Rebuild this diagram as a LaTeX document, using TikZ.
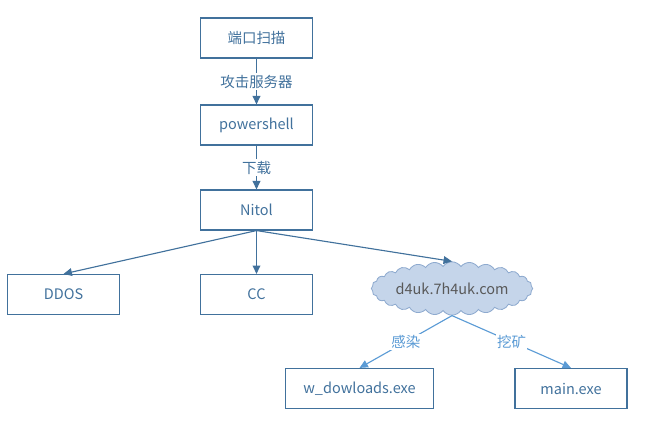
\documentclass[tikz,border=0pt]{standalone}
\usepackage{fontspec}
\setmainfont{Noto Sans CJK SC}
\usetikzlibrary{shapes.symbols,arrows.meta}
\definecolor{boxblue}{HTML}{41719C}
\definecolor{lightblue}{HTML}{5B9BD5}
\definecolor{cloudfill}{HTML}{C5D5EA}
\definecolor{cloudline}{HTML}{8EAACF}
\definecolor{cloudtext}{HTML}{595959}
\begin{document}
\begin{tikzpicture}[x=0.025cm, y=-0.025cm,
    font=\fontsize{10.3pt}{12pt}\selectfont,
    box/.style={draw=boxblue, line width=0.8pt, text=boxblue, minimum width=2.8cm, minimum height=1cm, inner sep=0},
    flow/.style={draw=boxblue, line width=0.8pt, -{Triangle[length=6pt,width=5.5pt]}},
    flowlight/.style={draw=lightblue, line width=0.8pt, -{Triangle[length=6pt,width=5.5pt]}},
    lbl/.style={fill=white, text=boxblue, inner sep=1pt},
    lbllight/.style={fill=white, text=lightblue, inner sep=1pt}]
    \useasboundingbox (0,0) rectangle (645,429);
    % Boxes
    \node[box] (scan) at (256.5,38) {端口扫描};
    \node[box] (ps) at (256.5,125) {powershell};
    \node[box] (nitol) at (256.5,210) {Nitol};
    \node[box] (ddos) at (63.5,294.5) {DDOS};
    \node[box] (cc) at (256.5,294.5) {CC};
    \node[box, minimum width=3.7cm] (wdl) at (359.5,388.5) {w\_dowloads.exe};
    \node[box] (main) at (571,388.5) {main.exe};
    % Cloud
    \node[cloud, cloud puffs=28, cloud puff arc=110, aspect=3.6, draw=cloudline, fill=cloudfill, line width=0.6pt,
      text=cloudtext, minimum width=3.75cm, minimum height=1.05cm, inner sep=0] (dom) at (452,288.5) {d4uk.7h4uk.com};
    % Arrows
    \draw[flow] (scan) -- node[lbl]{攻击服务器} (ps);
    \draw[flow] (ps) -- node[lbl]{下载} (nitol);
    \draw[flow] (nitol.south) -- (ddos.north);
    \draw[flow] (nitol.south) -- (cc.north);
    \draw[flow] (nitol.south) -- (dom.north);
    \draw[flowlight] (dom.south) -- node[lbllight]{感染} (wdl.north);
    \draw[flowlight] (dom.south) -- node[lbllight]{挖矿} (main.north);
\end{tikzpicture}
\end{document}
